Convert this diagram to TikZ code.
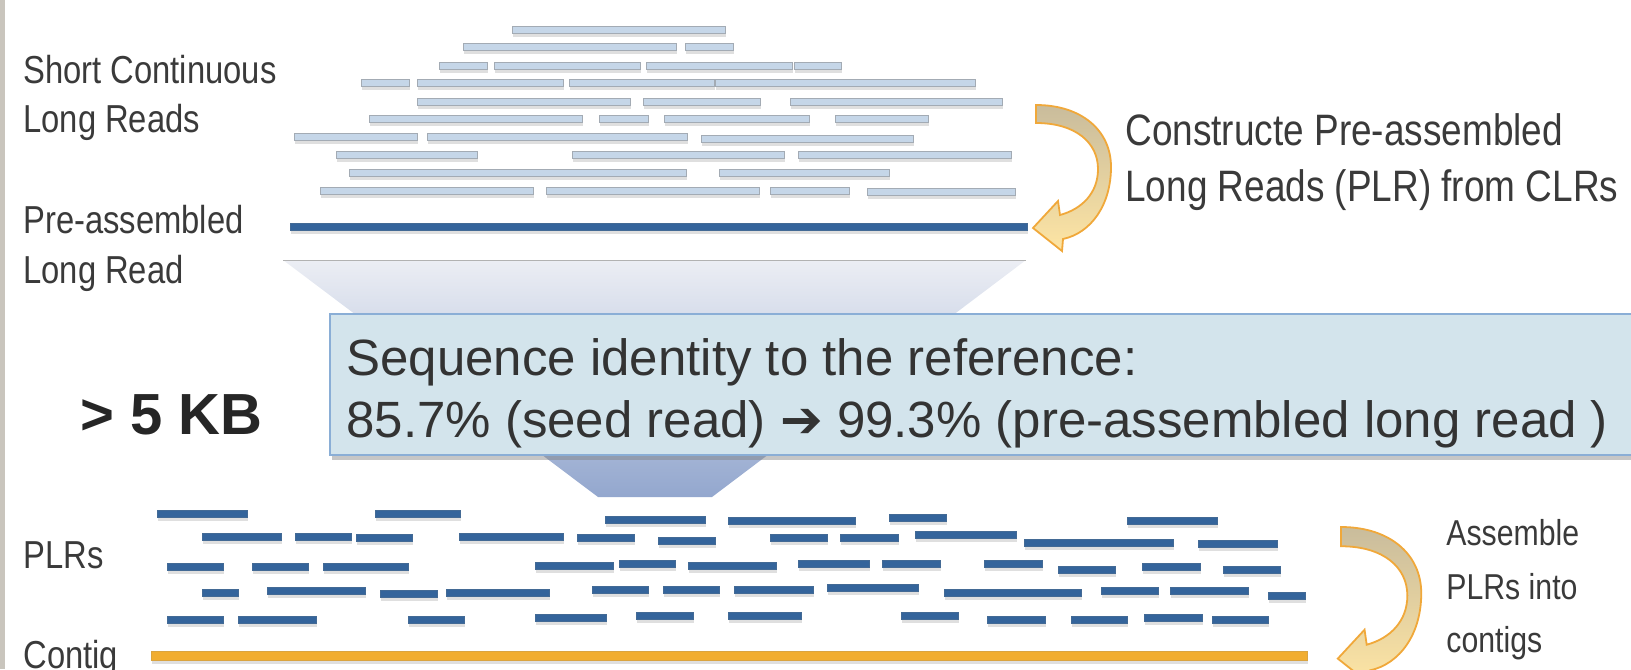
\documentclass[tikz,border=0pt]{standalone}
\usepackage{fontspec}
\setmainfont{Liberation Sans}
\newfontfamily\narrowsans[FakeStretch=0.84]{Liberation Sans}
\newfontfamily\arrowfont{DejaVu Sans}
\usetikzlibrary{shadows}
\definecolor{labelgray}{HTML}{3A3A3A}
\definecolor{clrfill}{HTML}{C5D6E8}
\definecolor{clrline}{HTML}{A3ABB4}
\definecolor{plrblue}{HTML}{34649B}
\definecolor{contigorange}{HTML}{F1AD30}
\definecolor{boxfill}{HTML}{D3E4EC}
\definecolor{boxline}{HTML}{8AAED6}
\definecolor{funneltop}{HTML}{ECEEF4}
\definecolor{funnelbottom}{HTML}{93A7CE}
\definecolor{arrowtan}{HTML}{C9BC9C}
\definecolor{arrowlight}{HTML}{FEE5A4}
\definecolor{arrowline}{HTML}{F0A83A}
\definecolor{edgegray}{HTML}{C9C5BD}

\begin{document}
\begin{tikzpicture}[x=0.5pt,y=-0.5pt,
    sidetext/.style={anchor=base west,inner sep=0pt,text=labelgray,font=\narrowsans\fontsize{19.5}{22}\selectfont},
    clrbar/.style={fill=clrfill,draw=clrline,line width=0.4pt,drop shadow={shadow xshift=0.6pt,shadow yshift=-1.8pt,opacity=0.25}},
    plrbar/.style={fill=plrblue,draw=plrblue!80!gray,line width=0.3pt,drop shadow={shadow xshift=0.6pt,shadow yshift=-1.8pt,opacity=0.25}},
    bendarrow/.style={top color=arrowtan,bottom color=arrowlight,draw=arrowline,line width=0.9pt}]
  \useasboundingbox (0,0) rectangle (1631,669);
  \fill[edgegray] (0,0) rectangle (5,669);
  \shade[top color=funneltop,bottom color=funnelbottom] (283,260) -- (1026,260) -- (712,497) -- (598,497) -- cycle;
  \draw[gray!60,line width=0.4pt] (283,260) -- (1026,260);
  \foreach \xa/\xb/\yy in {512/725/30, 463/676/47, 685/733/47,
      439/487/66, 494/640/66, 646/792/66, 794/841/66,
      361/409/83, 417/563/83, 569/714/83, 715/975/83,
      417/630/102, 643/760/102, 790/1002/102,
      369/582/119, 599/648/119, 664/809/119, 835/928/119,
      294/417/137, 427/687/137, 701/913/139,
      336/477/155, 572/784/155, 798/1011/155,
      349/686/173, 719/889/173,
      320/533/191, 546/759/191, 770/849/191, 867/1015/192}
    \path[clrbar] (\xa,\yy-3.5) rectangle (\xb,\yy+3.5);
  \path[plrbar] (290,223.5) rectangle (1027,230.5);
  \foreach \xa/\xb/\yy in {157/247/514, 375/460/514, 605/705/520, 728/855/521, 889/946/518, 1127/1217/521,
      202/281/537, 295/351/537, 356/412/538, 459/563/537, 577/634/538, 658/715/541,
      770/827/538, 840/898/538, 915/1016/535, 1024/1173/543, 1198/1277/544,
      167/223/567, 252/308/567, 323/408/567, 535/613/566, 619/675/564, 688/776/566,
      798/869/564, 882/940/564, 984/1042/564, 1058/1115/570, 1142/1200/567, 1223/1280/570,
      202/238/593, 267/365/591, 380/437/594, 446/549/593, 592/648/590, 663/719/590,
      734/813/590, 827/918/588, 944/1081/593, 1101/1158/591, 1170/1248/591, 1268/1305/596,
      167/223/620, 238/316/620, 408/464/620, 535/606/618, 636/693/616, 728/801/616,
      901/958/616, 987/1045/620, 1071/1127/620, 1144/1202/618, 1212/1268/620}
    \path[plrbar] (\xa,\yy-3.5) rectangle (\xb,\yy+3.5);
  \path[fill=contigorange,draw=contigorange!80!gray,line width=0.3pt,drop shadow={shadow xshift=0.6pt,shadow yshift=-1.8pt,opacity=0.25}] (151,651.5) rectangle (1307,660.5);
  \path[fill=boxfill,draw=boxline,line width=1pt,drop shadow={shadow xshift=1pt,shadow yshift=-2.5pt,opacity=0.45}] (330,314) rectangle (1660,455);
  \begin{scope}[shift={(1036,105)}]
    \shadedraw[bendarrow] (0,0) .. controls (45,0) and (75,25) .. (75,62) .. controls (75,100) and (55,128) .. (27,134) -- (26,146) -- (-3,123) -- (22,96) -- (24,110) .. controls (46,104) and (62,88) .. (62,64) .. controls (62,38) and (40,18) .. (0,18) -- cycle;
  \end{scope}
  \begin{scope}[shift={(1341,527)},scale=1.07]
    \shadedraw[bendarrow] (0,0) .. controls (45,0) and (75,25) .. (75,62) .. controls (75,100) and (55,128) .. (27,134) -- (26,146) -- (-3,123) -- (22,96) -- (24,110) .. controls (46,104) and (62,88) .. (62,64) .. controls (62,38) and (40,18) .. (0,18) -- cycle;
  \end{scope}
  \node[sidetext] (clrtop) at (23,83) {Short Continuous};
  \node[sidetext] (clrbottom) at (23,132) {Long Reads};
  \node[sidetext] (preasm) at (23,233) {Pre-assembled};
  \node[sidetext] (longread) at (23,283) {Long Read};
  \node[sidetext,font=\fontsize{29}{33}\selectfont\bfseries,text=black!85] (kb) at (80,434) {> 5 KB};
  \node[sidetext] (plrs) at (23,568) {PLRs};
  \node[sidetext] (contig) at (23,668) {Contig};
  \node[sidetext,font=\narrowsans\fontsize{22}{26}\selectfont] (construct) at (1125,145) {Constructe Pre-assembled};
  \node[sidetext,font=\narrowsans\fontsize{22}{26}\selectfont] (fromclr) at (1125,201) {Long Reads (PLR) from CLRs};
  \node[sidetext,font=\narrowsans\fontsize{18}{22}\selectfont] (assemble) at (1446,545) {Assemble};
  \node[sidetext,font=\narrowsans\fontsize{18}{22}\selectfont] (plrsinto) at (1446,599) {PLRs into};
  \node[sidetext,font=\narrowsans\fontsize{18}{22}\selectfont] (contigs) at (1446,652) {contigs};
  \node[sidetext,font=\fontsize{25.5}{30}\selectfont,text=black!80] (identity) at (346,375) {Sequence identity to the reference:};
  \node[sidetext,font=\fontsize{25.5}{30}\selectfont,text=black!80] (percent) at (346,437) {85.7\% (seed read) {\arrowfont\bfseries ➔} 99.3\% (pre-assembled long read )};
\end{tikzpicture}
\end{document}
